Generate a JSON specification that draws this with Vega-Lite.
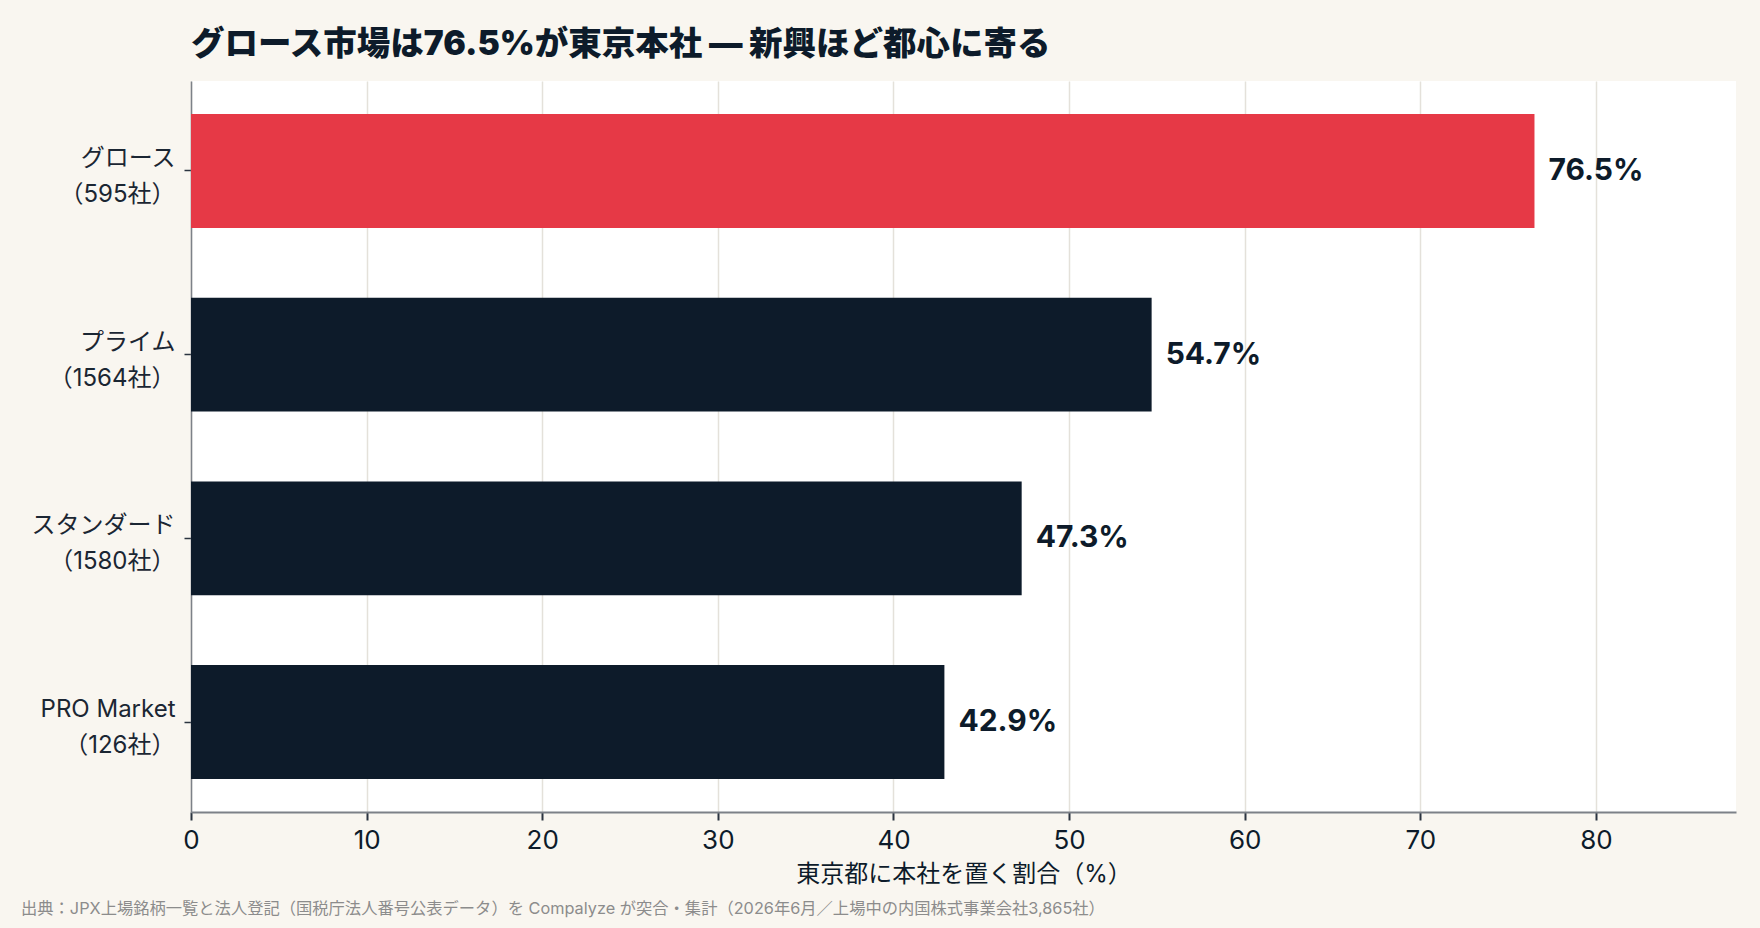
{
  "$schema": "https://vega.github.io/schema/vega-lite/v6.json",
  "background": "#f9f6f0",
  "padding": {"left": 21, "top": 27, "right": 24, "bottom": 15},
  "title": {
    "text": "出典：JPX上場銘柄一覧と法人登記（国税庁法人番号公表データ）を Compalyze が突合・集計（2026年6月／上場中の内国株式事業会社3,865社）",
    "orient": "bottom", "anchor": "start", "fontSize": 16.3, "fontWeight": "normal",
    "color": "#8c8c8c", "font": "Inter, Noto Sans CJK JP", "offset": 15, "dx": -10
  },
  "config": {"font": "Inter, Noto Sans CJK JP", "view": {"stroke": null}, "concat": {"spacing": 0}},
  "vconcat": [
    {
      "width": 1545,
      "height": 731,
      "title": {
        "text": "グロース市場は76.5%が東京本社 — 新興ほど都心に寄る",
        "anchor": "start", "frame": "group", "fontSize": 33.5, "fontWeight": 900, "color": "#0d1b2a", "offset": 19
      },
      "view": {"fill": "#ffffff", "stroke": null},
      "data": {
        "values": [
          {"market": "グロース\n（595社）", "share": 76.5, "label": "76.5%", "group": "highlight"},
          {"market": "プライム\n（1564社）", "share": 54.7, "label": "54.7%", "group": "other"},
          {"market": "スタンダード\n（1580社）", "share": 47.3, "label": "47.3%", "group": "other"},
          {"market": "PRO Market\n（126社）", "share": 42.9, "label": "42.9%", "group": "other"}
        ]
      },
      "encoding": {
        "y": {
          "field": "market", "type": "nominal", "sort": null,
          "scale": {"paddingInner": 0.38, "paddingOuter": 0.18},
          "axis": {
            "title": null,
            "labelExpr": "split(datum.label, '\\n')",
            "labelFontSize": 24, "labelColor": "#1b2633", "labelLineHeight": 36,
            "labelOffset": -12,
            "tickSize": 7, "tickColor": "#2b3440", "tickWidth": 1.5, "labelPadding": 9,
            "domainColor": "#7d8188", "domainWidth": 1.5, "grid": false
          }
        },
        "x": {
          "field": "share", "type": "quantitative",
          "scale": {"domain": [0, 87.975], "nice": false},
          "axis": {
            "title": "東京都に本社を置く割合（%）",
            "titleFontSize": 24, "titleFontWeight": "normal", "titleColor": "#0d1b2a", "titlePadding": 9,
            "values": [0, 10, 20, 30, 40, 50, 60, 70, 80],
            "labelFontSize": 26, "labelColor": "#0d1b2a", "labelPadding": 7, "labelFlush": false,
            "tickSize": 8, "tickWidth": 2, "tickColor": "#2b3440",
            "domainColor": "#7d8188", "domainWidth": 2,
            "grid": true, "gridColor": "#e4e1da", "gridWidth": 1.5
          }
        }
      },
      "layer": [
        {
          "mark": {"type": "bar"},
          "encoding": {
            "color": {
              "field": "group", "type": "nominal",
              "scale": {"domain": ["highlight", "other"], "range": ["#e63946", "#0d1b2a"]},
              "legend": null
            }
          }
        },
        {
          "mark": {"type": "text", "align": "left", "baseline": "middle", "dx": 14, "fontSize": 30, "fontWeight": "bold", "color": "#0d1b2a"},
          "encoding": {"text": {"field": "label"}}
        }
      ]
    }
  ]
}
